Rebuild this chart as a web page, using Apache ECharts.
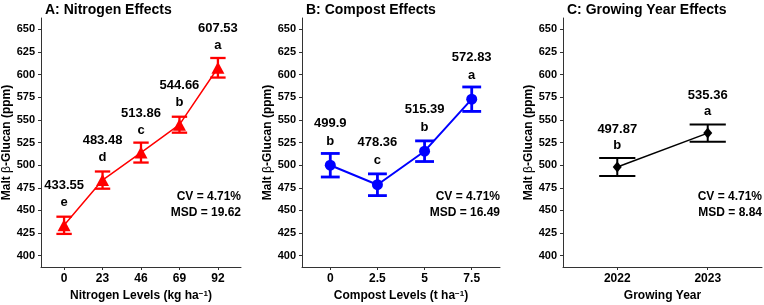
<!DOCTYPE html>
<html>
<head>
<meta charset="UTF-8">
<title>Malt beta-Glucan</title>
<script src="https://cdn.jsdelivr.net/npm/echarts@6/dist/echarts.min.js"></script>
<style>
  html, body { margin: 0; padding: 0; background: #fff; }
  #main { width: 764px; height: 305px; }
</style>
</head>
<body>
<div id="main"></div>
<script>
// panel A: nitrogen
var nLevels = ['0', '23', '46', '69', '92'];
var nMean = [433.55, 483.48, 513.86, 544.66, 607.53];
var nErr = [9.5, 9.5, 11, 8.8, 10.8];
var nLetters = ['e', 'd', 'c', 'b', 'a'];

// panel B: compost
var cLevels = ['0', '2.5', '5', '7.5'];
var cMean = [499.9, 478.36, 515.39, 572.83];
var cErr = [13, 12, 11.4, 13.5];
var cLetters = ['b', 'c', 'b', 'a'];

// panel C: growing year
var gLevels = ['2022', '2023'];
var gMean = [497.87, 535.36];
var gErr = [10, 9.4];
var gLetters = ['b', 'a'];

var yTicks = [400, 425, 450, 475, 500, 525, 550, 575, 600, 625, 650];

var FONT = 'Liberation Sans, Arial, sans-serif';
var chart = echarts.init(document.getElementById('main'));

var panels = [
  { title: 'A: Nitrogen Effects', xname: 'Nitrogen Levels (kg ha{sup|\u22121})', levels: nLevels, mean: nMean, err: nErr, letters: nLetters,
    color: '#ff0000', symbol: 'triangle', symbolSize: [13, 12], lineWidth: 1.5, barWidth: 2.3,
    left: 41, width: 200, cv: 'CV = 4.71%', msd: 'MSD = 19.62', lh: 17, off: -31 },
  { title: 'B: Compost Effects', xname: 'Compost Levels (t ha{sup|\u22121})', levels: cLevels, mean: cMean, err: cErr, letters: cLetters,
    color: '#0000ff', symbol: 'circle', symbolSize: 11, lineWidth: 2, barWidth: 2.8,
    left: 302, width: 198, cv: 'CV = 4.71%', msd: 'MSD = 16.49', lh: 18, off: -33 },
  { title: 'C: Growing Year Effects', xname: 'Growing Year', levels: gLevels, mean: gMean, err: gErr, letters: gLetters,
    color: '#000000', symbol: 'diamond', symbolSize: [9, 11], lineWidth: 1.5, barWidth: 2,
    left: 563, width: 199, cv: 'CV = 4.71%', msd: 'MSD = 8.84', lh: 16.5, off: -29.5 }
];

var option = {
  animation: false,
  backgroundColor: '#fff',
  textStyle: { fontFamily: FONT },
  title: [], grid: [], xAxis: [], yAxis: [], series: [], graphic: []
};

panels.forEach(function (p, i) {
  option.title.push({
    text: p.title, left: p.left - 1, top: -2,
    textStyle: { fontFamily: FONT, fontSize: 14, fontWeight: 'bold', color: '#000' }
  });
  option.grid.push({ left: p.left, top: 18, width: p.width, height: 249, outerBoundsMode: 'none' });

  var idx = p.levels.map(function (_, k) { return k; });
  option.xAxis.push({
    type: 'value', gridIndex: i, min: -0.6, max: p.levels.length - 0.4,
    name: p.xname, nameLocation: 'middle', nameGap: 23,
    nameTextStyle: { fontFamily: FONT, fontSize: 12, fontWeight: 'bold', color: '#000',
      rich: { sup: { fontSize: 8, fontWeight: 'bold', verticalAlign: 'top', lineHeight: 10, padding: [0, 0, 6, 0] } } },
    axisLine: { show: true, onZero: false, lineStyle: { color: '#333', width: 1 } },
    axisTick: { show: true, length: 3, lineStyle: { color: '#333' }, customValues: idx },
    axisLabel: { customValues: idx, margin: 6, fontFamily: FONT, fontSize: 12, fontWeight: 'bold', color: '#000',
      formatter: function (v) { return p.levels[Math.round(v)]; } },
    splitLine: { show: false }
  });
  option.yAxis.push({
    type: 'value', gridIndex: i, min: 387.5, max: 662.5,
    name: 'Malt {b|\u03b2}-Glucan (ppm)', nameLocation: 'middle', nameGap: 27, nameRotate: 90,
    nameTextStyle: { fontFamily: FONT, fontSize: 12, fontWeight: 'bold', color: '#000',
      rich: { b: { fontFamily: FONT, fontSize: 12, fontWeight: 'normal', color: '#000' } } },
    axisLine: { show: true, onZero: false, lineStyle: { color: '#333', width: 1 } },
    axisTick: { show: true, length: 3, lineStyle: { color: '#333' }, customValues: yTicks },
    axisLabel: { customValues: yTicks, margin: 6, fontFamily: FONT, fontSize: 11, fontWeight: 'bold', color: '#000' },
    splitLine: { show: false }
  });

  // error bars
  option.series.push({
    type: 'custom', xAxisIndex: i, yAxisIndex: i,
    data: p.mean.map(function (m, k) { return [k, m - p.err[k], m + p.err[k]]; }),
    renderItem: function (params, api) {
      var x = api.value(0);
      var lo = api.coord([x, api.value(1)]);
      var hi = api.coord([x, api.value(2)]);
      var l = api.coord([x - 0.2, api.value(1)])[0];
      var r = api.coord([x + 0.2, api.value(1)])[0];
      var st = { stroke: p.color, lineWidth: p.barWidth, fill: null };
      return { type: 'group', children: [
        { type: 'line', shape: { x1: lo[0], y1: lo[1], x2: hi[0], y2: hi[1] }, style: st },
        { type: 'line', shape: { x1: l, y1: lo[1], x2: r, y2: lo[1] }, style: st },
        { type: 'line', shape: { x1: l, y1: hi[1], x2: r, y2: hi[1] }, style: st }
      ] };
    },
    z: 2
  });

  // means line with markers and labels
  option.series.push({
    type: 'line', xAxisIndex: i, yAxisIndex: i,
    data: p.mean.map(function (m, k) { return [k, m]; }),
    symbol: p.symbol, symbolSize: p.symbolSize, showAllSymbol: true,
    itemStyle: { color: p.color },
    lineStyle: { color: p.color, width: p.lineWidth },
    label: {
      show: true, position: 'inside', offset: [0, p.off],
      formatter: function (d) { return '{v|' + p.mean[d.dataIndex] + '}\n{v|' + p.letters[d.dataIndex] + '}'; },
      rich: { v: { fontFamily: FONT, fontSize: 13, fontWeight: 'bold', color: '#000', lineHeight: p.lh, align: 'center' } }
    },
    z: 3
  });

  var rightX = p.left + p.width;
  option.graphic.push({
    type: 'text', x: rightX, y: 197,
    style: { text: p.cv, textAlign: 'right', textVerticalAlign: 'middle', font: 'bold 12px ' + FONT, fill: '#000' }
  });
  option.graphic.push({
    type: 'text', x: rightX, y: 213,
    style: { text: p.msd, textAlign: 'right', textVerticalAlign: 'middle', font: 'bold 12px ' + FONT, fill: '#000' }
  });
});

chart.setOption(option);
</script>
</body>
</html>
